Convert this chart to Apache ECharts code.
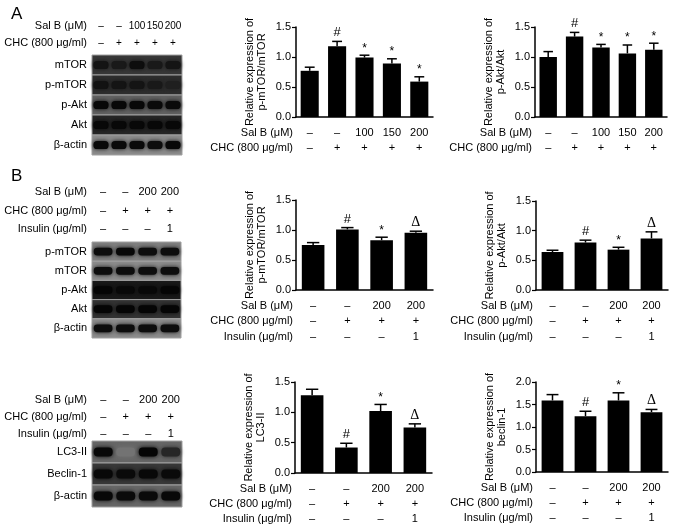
<!DOCTYPE html>
<html><head><meta charset="utf-8">
<script src="https://cdn.jsdelivr.net/npm/echarts@6/dist/echarts.min.js"></script>
<style>html,body{margin:0;padding:0;background:#fff}#c{width:677px;height:528px}</style>
</head><body><div id="c"></div>
<script>
// ---------- data ----------
const salB_A = ['–','–','100','150','200'];
const chc_A  = ['–','+','+','+','+'];
const salB_B = ['–','–','200','200'];
const chc_B  = ['–','+','+','+'];
const ins_B  = ['–','–','–','1'];

const A_mtor_val = [0.77, 1.18, 0.99, 0.89, 0.59];
const A_mtor_err = [0.06, 0.08, 0.04, 0.08, 0.08];
const A_mtor_sig = ['', '#', '*', '*', '*'];
const A_akt_val  = [1.00, 1.34, 1.16, 1.06, 1.12];
const A_akt_err  = [0.09, 0.07, 0.05, 0.14, 0.11];
const A_akt_sig  = ['', '#', '*', '*', '*'];

const B_mtor_val = [0.75, 1.01, 0.83, 0.955];
const B_mtor_err = [0.04, 0.03, 0.05, 0.025];
const B_mtor_sig = ['', '#', '*', 'Δ'];
const B_akt_val  = [0.64, 0.80, 0.68, 0.87];
const B_akt_err  = [0.03, 0.04, 0.04, 0.11];
const B_akt_sig  = ['', '#', '*', 'Δ'];
const B_lc3_val  = [1.28, 0.42, 1.02, 0.75];
const B_lc3_err  = [0.10, 0.07, 0.11, 0.06];
const B_lc3_sig  = ['', '#', '*', 'Δ'];
const B_bec_val  = [1.59, 1.24, 1.59, 1.33];
const B_bec_err  = [0.13, 0.11, 0.17, 0.06];
const B_bec_sig  = ['', '#', '*', 'Δ'];

// blot rows: names, background darkness, band darkness per lane
const blotA_rows  = ['mTOR','p-mTOR','p-Akt','Akt','β-actin'];
const blotA_bg    = [0.78, 0.82, 0.62, 0.85, 0.45];
const blotA_bands = [[0.92,0.90,0.95,0.90,0.92],[0.93,0.92,0.92,0.90,0.88],[0.97,0.97,0.97,0.96,0.96],[0.97,0.97,0.97,0.97,0.97],[0.97,0.96,0.96,0.95,0.97]];
const blotB1_rows  = ['p-mTOR','mTOR','p-Akt','Akt','β-actin'];
const blotB1_bg    = [0.5, 0.45, 0.9, 0.8, 0.45];
const blotB1_bands = [[0.95,0.97,0.95,0.95],[0.95,0.95,0.95,0.95],[0.98,0.97,0.97,0.98],[0.98,0.98,0.98,0.98],[0.95,0.95,0.95,0.95]];
const blotB2_rows  = ['LC3-II','Beclin-1','β-actin'];
const blotB2_bg    = [0.6, 0.78, 0.6];
const blotB2_bands = [[0.97,0.55,0.98,0.85],[0.97,0.96,0.97,0.96],[0.97,0.96,0.96,0.97]];

const yNameMTOR = 'Relative expression of\np-mTOR/mTOR';
const yNameAKT  = 'Relative expression of\np-Akt/Akt';
const yNameLC3  = 'Relative expression of\nLC3-II';
const yNameBEC  = 'Relative expression of\nbeclin-1';

// ---------- helpers ----------
const FONT = '"Liberation Sans", Arial, sans-serif';
const gray = d => { const v = Math.round(255 * (1 - d)); return 'rgb(' + v + ',' + v + ',' + v + ')'; };

const grids = [], xAxes = [], yAxes = [], series = [], graphics = [];

function addBlot(g, rows, bg, bands, headers, headerNames, lh, margin, hfs) {
  const gi = grids.length;
  grids.push(g);
  const nL = bands[0].length;
  const lanes = [];
  for (let i = 0; i < nL; i++) lanes.push(headers.map(h => h[i]).join('\n'));
  xAxes.push({gridIndex: gi, type: 'category', position: 'top', data: lanes,
    axisLine: {show: false}, axisTick: {show: false},
    axisLabel: {interval: 0, margin: margin, lineHeight: lh, fontSize: hfs, color: '#000', fontFamily: FONT}});
  yAxes.push({gridIndex: gi, type: 'category', inverse: true, data: rows,
    axisLine: {show: false}, axisTick: {show: false},
    axisLabel: {margin: 5, fontSize: 11, color: '#000', fontFamily: FONT}});
  const data = rows.map((r, k) => [0, k, bg[k]].concat(bands[k]));
  series.push({type: 'custom', xAxisIndex: gi, yAxisIndex: gi, silent: true, clip: false,
    encode: {x: 0, y: 1}, data: data,
    renderItem: function (params, api) {
      const row = api.value(1);
      const c0 = api.coord([0, row]);
      const sz = api.size([1, 1]);
      const cw = sz[0], ch = sz[1];
      const x0 = c0[0] - cw / 2, y0 = c0[1] - ch / 2;
      const children = [{type: 'rect', shape: {x: x0, y: y0, width: cw * nL, height: ch},
        style: {fill: gray(api.value(2)), stroke: '#a0a0a0', lineWidth: 1}}];
      for (let i = 0; i < nL; i++) {
        const d = api.value(3 + i);
        children.push({type: 'rect', shape: {x: x0 + i * cw + cw * 0.08, y: c0[1] - ch * 0.2, width: cw * 0.84, height: ch * 0.4, r: ch * 0.18},
          style: {fill: gray(d), shadowBlur: 4, shadowColor: gray(d)}});
      }
      return {type: 'group', children: children};
    }});
  const n = headers.length;
  headerNames.forEach((t, k) => {
    graphics.push({type: 'text', x: g.left - 5, y: g.top - margin - lh / 2 - (n - 1 - k) * lh,
      style: {text: t, textAlign: 'right', textVerticalAlign: 'middle', font: '11px ' + FONT, fill: '#000'}});
  });
}

function addChart(g, vals, errs, sigs, rowsArr, rowNames, yMax, yName, lh) {
  const gi = grids.length;
  grids.push(g);
  const labels = vals.map((v, i) => rowsArr.map(r => r[i]).join('\n'));
  xAxes.push({gridIndex: gi, type: 'category', data: labels,
    axisLine: {lineStyle: {color: '#000', width: 1.5}},
    axisTick: {alignWithLabel: true, length: 3, lineStyle: {color: '#000', width: 1.2}},
    axisLabel: {interval: 0, margin: 8, lineHeight: lh, fontSize: 11, color: '#000', fontFamily: FONT}});
  yAxes.push({gridIndex: gi, type: 'value', min: 0, max: yMax, interval: 0.5,
    splitLine: {show: false},
    axisLine: {show: true, lineStyle: {color: '#000', width: 1.5}},
    axisTick: {show: true, length: 4, lineStyle: {color: '#000', width: 1.2}},
    axisLabel: {margin: 5, fontSize: 11, color: '#000', fontFamily: FONT, formatter: v => v.toFixed(1)},
    name: yName, nameLocation: 'middle', nameRotate: 90, nameGap: 28,
    nameTextStyle: {fontSize: 11, lineHeight: 12, color: '#000', fontFamily: FONT}});
  series.push({type: 'bar', xAxisIndex: gi, yAxisIndex: gi, data: vals, barWidth: '66%',
    itemStyle: {color: '#000'}, silent: true, animation: false});
  series.push({type: 'custom', xAxisIndex: gi, yAxisIndex: gi, silent: true, clip: false, z: 5,
    encode: {x: 0, y: 1},
    data: vals.map((v, i) => [i, v, errs[i]]),
    renderItem: function (params, api) {
      const i = api.value(0), v = api.value(1), e = api.value(2);
      const base = api.coord([i, v]);
      const top = api.coord([i, v + e]);
      const bw = api.size([1, 0])[0];
      const hw = bw * 0.18;
      const s = sigs[params.dataIndex];
      const children = [
        {type: 'line', shape: {x1: base[0], y1: base[1], x2: top[0], y2: top[1]}, style: {stroke: '#000', lineWidth: 1.5}},
        {type: 'line', shape: {x1: top[0] - hw, y1: top[1], x2: top[0] + hw, y2: top[1]}, style: {stroke: '#000', lineWidth: 1.5}}
      ];
      if (s) {
        const isD = s === 'Δ';
        children.push({type: 'text', x: top[0], y: top[1] - (s === '*' ? 1 : 2),
          style: {text: s, textAlign: 'center', textVerticalAlign: 'bottom', fill: '#000',
            font: (isD ? '14px "Liberation Serif", serif' : (s === '#' ? '13px ' + FONT : '12px ' + FONT))}});
      }
      return {type: 'group', children: children};
    }});
  rowNames.forEach((t, k) => {
    graphics.push({type: 'text', x: g.left - 3, y: g.top + g.height + 8 + lh / 2 + k * lh,
      style: {text: t, textAlign: 'right', textVerticalAlign: 'middle', font: '11px ' + FONT, fill: '#000'}});
  });
}

// ---------- layout ----------
addBlot({left: 92, top: 55, width: 90, height: 100}, blotA_rows, blotA_bg, blotA_bands,
  [salB_A, chc_A], ['Sal B (μM)', 'CHC (800 μg/ml)'], 17, 3.5, 10);
addChart({left: 296, top: 27, width: 137, height: 90}, A_mtor_val, A_mtor_err, A_mtor_sig,
  [salB_A, chc_A], ['Sal B (μM)', 'CHC (800 μg/ml)'], 1.5, yNameMTOR, 15);
addChart({left: 535, top: 27, width: 132, height: 90}, A_akt_val, A_akt_err, A_akt_sig,
  [salB_A, chc_A], ['Sal B (μM)', 'CHC (800 μg/ml)'], 1.5, yNameAKT, 15);

addBlot({left: 92, top: 242, width: 89, height: 96}, blotB1_rows, blotB1_bg, blotB1_bands,
  [salB_B, chc_B, ins_B], ['Sal B (μM)', 'CHC (800 μg/ml)', 'Insulin (μg/ml)'], 18.5, 3.5, 11);
addChart({left: 296, top: 200, width: 137, height: 90}, B_mtor_val, B_mtor_err, B_mtor_sig,
  [salB_B, chc_B, ins_B], ['Sal B (μM)', 'CHC (800 μg/ml)', 'Insulin (μg/ml)'], 1.5, yNameMTOR, 15.5);
addChart({left: 536, top: 201, width: 132, height: 89}, B_akt_val, B_akt_err, B_akt_sig,
  [salB_B, chc_B, ins_B], ['Sal B (μM)', 'CHC (800 μg/ml)', 'Insulin (μg/ml)'], 1.5, yNameAKT, 15.5);

addBlot({left: 92, top: 441, width: 90, height: 66}, blotB2_rows, blotB2_bg, blotB2_bands,
  [salB_B, chc_B, ins_B], ['Sal B (μM)', 'CHC (800 μg/ml)', 'Insulin (μg/ml)'], 17, -1, 11);
addChart({left: 295, top: 382, width: 137, height: 91}, B_lc3_val, B_lc3_err, B_lc3_sig,
  [salB_B, chc_B, ins_B], ['Sal B (μM)', 'CHC (800 μg/ml)', 'Insulin (μg/ml)'], 1.5, yNameLC3, 15);
addChart({left: 536, top: 382, width: 132, height: 90}, B_bec_val, B_bec_err, B_bec_sig,
  [salB_B, chc_B, ins_B], ['Sal B (μM)', 'CHC (800 μg/ml)', 'Insulin (μg/ml)'], 2.0, yNameBEC, 15);

graphics.push({type: 'text', x: 11, y: 6, style: {text: 'A', font: '17px ' + FONT, fill: '#000'}});
graphics.push({type: 'text', x: 11, y: 168, style: {text: 'B', font: '17px ' + FONT, fill: '#000'}});

const chart = echarts.init(document.getElementById('c'), null, {renderer: 'canvas'});
chart.setOption({
  animation: false,
  backgroundColor: '#fff',
  textStyle: {fontFamily: FONT},
  grid: grids, xAxis: xAxes, yAxis: yAxes, series: series, graphic: graphics
});
</script></body></html>
